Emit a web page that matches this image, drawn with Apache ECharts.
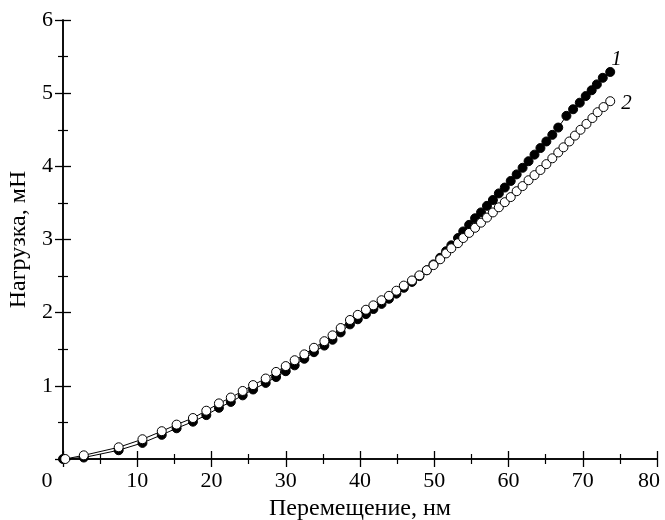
<!DOCTYPE html>
<html><head><meta charset="utf-8">
<script src="https://cdn.jsdelivr.net/npm/echarts@6/dist/echarts.min.js"></script>
<style>html,body{margin:0;padding:0;background:#fff}#c{width:665px;height:520px}</style>
</head><body><div id="c"></div>
<script>
const xTicks = [0,10,20,30,40,50,60,70,80];
const yTicks = [0,1,2,3,4,5,6];
const xName = 'Перемещение, нм';
const yName = 'Нагрузка, мН';
const seriesNames = ['1','2'];
const curve1X = [0,2.8,7.5,10.7,13.3,15.3,17.5,19.3,21.0,22.6,24.2,25.6,27.3,28.7,30.0,31.2,32.5,33.8,35.2,36.3,37.4,38.65,39.7,40.8,41.8,42.9,43.9,44.9,45.9,47.0,48.0,49.0,49.9,50.8,51.6,52.3,53.2,53.9,54.7,55.5,56.3,57.1,57.9,58.7,59.5,60.3,61.1,61.9,62.7,63.5,64.3,65.1,65.9,66.7,67.8,68.7,69.6,70.4,71.2,71.9,72.7,73.7];
const curve1Y = [0,0.02,0.12,0.22,0.33,0.42,0.51,0.60,0.70,0.78,0.87,0.95,1.04,1.12,1.20,1.28,1.37,1.46,1.55,1.63,1.73,1.84,1.91,1.98,2.05,2.12,2.19,2.26,2.34,2.42,2.50,2.58,2.66,2.75,2.84,2.92,3.02,3.11,3.20,3.29,3.37,3.46,3.54,3.63,3.71,3.80,3.89,3.98,4.07,4.16,4.25,4.34,4.43,4.53,4.69,4.78,4.87,4.96,5.04,5.12,5.21,5.29];
const curve2X = [0.3,2.8,7.5,10.7,13.3,15.3,17.5,19.3,21.0,22.6,24.2,25.6,27.3,28.7,30.0,31.2,32.5,33.8,35.2,36.3,37.4,38.65,39.7,40.8,41.8,42.9,43.9,44.9,45.9,47.0,48.0,49.0,49.9,50.8,51.6,52.3,53.2,53.9,54.7,55.5,56.3,57.1,57.9,58.7,59.5,60.3,61.1,61.9,62.7,63.5,64.3,65.1,65.9,66.7,67.4,68.2,68.95,69.7,70.5,71.3,72.0,72.8,73.7];
const curve2Y = [0,0.05,0.16,0.27,0.38,0.47,0.56,0.66,0.76,0.84,0.93,1.01,1.10,1.19,1.27,1.35,1.43,1.52,1.61,1.69,1.79,1.90,1.97,2.04,2.10,2.17,2.23,2.30,2.37,2.44,2.51,2.58,2.65,2.73,2.81,2.88,2.95,3.02,3.09,3.16,3.23,3.30,3.37,3.44,3.51,3.58,3.66,3.73,3.81,3.88,3.95,4.03,4.11,4.19,4.26,4.34,4.42,4.50,4.58,4.66,4.74,4.81,4.89];

const toPairs = (xs, ys) => xs.map((x, i) => [x, ys[i]]);
const font = 'Liberation Serif';
const chart = echarts.init(document.getElementById('c'));
const axisLine = {show: true, lineStyle: {color: '#000', width: 1.5}};
const baseX = {type: 'value', min: 0, max: 80, interval: 10, splitLine: {show: false},
  axisLine, axisTick: {inside: true, length: 8, lineStyle: {color: '#000', width: 1.3}},
  minorTick: {show: true, splitNumber: 2, length: 5, lineStyle: {color: '#000', width: 1.2}}};
const baseY = {type: 'value', min: 0, max: 6, interval: 1, splitLine: {show: false},
  axisLine, axisTick: {inside: true, length: 8, lineStyle: {color: '#000', width: 1.3}},
  minorTick: {show: true, splitNumber: 2, length: 5, lineStyle: {color: '#000', width: 1.2}}};
function lastLabel(pairs, name) {
  return {show: true, formatter: p => p.dataIndex === pairs.length - 1 ? name : '',
    fontFamily: font, fontStyle: 'italic', fontSize: 21, color: '#000'};
}
const s1 = toPairs(curve1X, curve1Y);
const s2 = toPairs(curve2X, curve2Y);
const xFirst = xTicks[0], xLast = xTicks[xTicks.length - 1];
chart.setOption({
  animation: false,
  backgroundColor: '#fff',
  grid: {left: 63, right: 8, top: 20, bottom: 61, containLabel: false, outerBoundsMode: 'none'},
  xAxis: [
    Object.assign({}, baseX, {position: 'bottom', name: xName, nameLocation: 'middle', nameGap: 37,
      nameTextStyle: {fontFamily: font, fontSize: 24, color: '#000'},
      axisLabel: {fontFamily: font, fontSize: 22, color: '#000', margin: 11,
        formatter: v => v === xFirst ? '{z|' + v + '}' : (v === xLast ? '{e|' + v + '}' : String(v)),
        rich: {z: {fontFamily: font, fontSize: 22, color: '#000', padding: [0, 32, 0, 0]},
               e: {fontFamily: font, fontSize: 22, color: '#000', padding: [0, 16, 0, 0]}}}}),
    Object.assign({}, baseX, {position: 'top', axisLabel: {show: false}})
  ],
  yAxis: [
    Object.assign({}, baseY, {position: 'left', name: yName, nameLocation: 'middle', nameGap: 29,
      nameTextStyle: {fontFamily: font, fontSize: 24, color: '#000'},
      axisLabel: {fontFamily: font, fontSize: 22, color: '#000', margin: 10,
        formatter: v => v === 0 ? '' : String(v)}}),
    Object.assign({}, baseY, {position: 'right', axisLabel: {show: false}})
  ],
  series: [
    {name: seriesNames[0], type: 'line', data: s1, symbol: 'circle', symbolSize: 9,
      showAllSymbol: true, z: 2,
      lineStyle: {color: '#000', width: 1}, itemStyle: {color: '#000', borderColor: '#000', borderWidth: 1},
      label: Object.assign(lastLabel(s1, seriesNames[0]), {position: [6, -18]})},
    {name: seriesNames[1], type: 'line', data: s2, symbol: 'circle', symbolSize: 9,
      showAllSymbol: true, z: 3,
      lineStyle: {color: '#000', width: 1}, itemStyle: {color: '#fff', borderColor: '#000', borderWidth: 1},
      label: Object.assign(lastLabel(s2, seriesNames[1]), {position: [16, -3]})}
  ]
});
</script></body></html>
